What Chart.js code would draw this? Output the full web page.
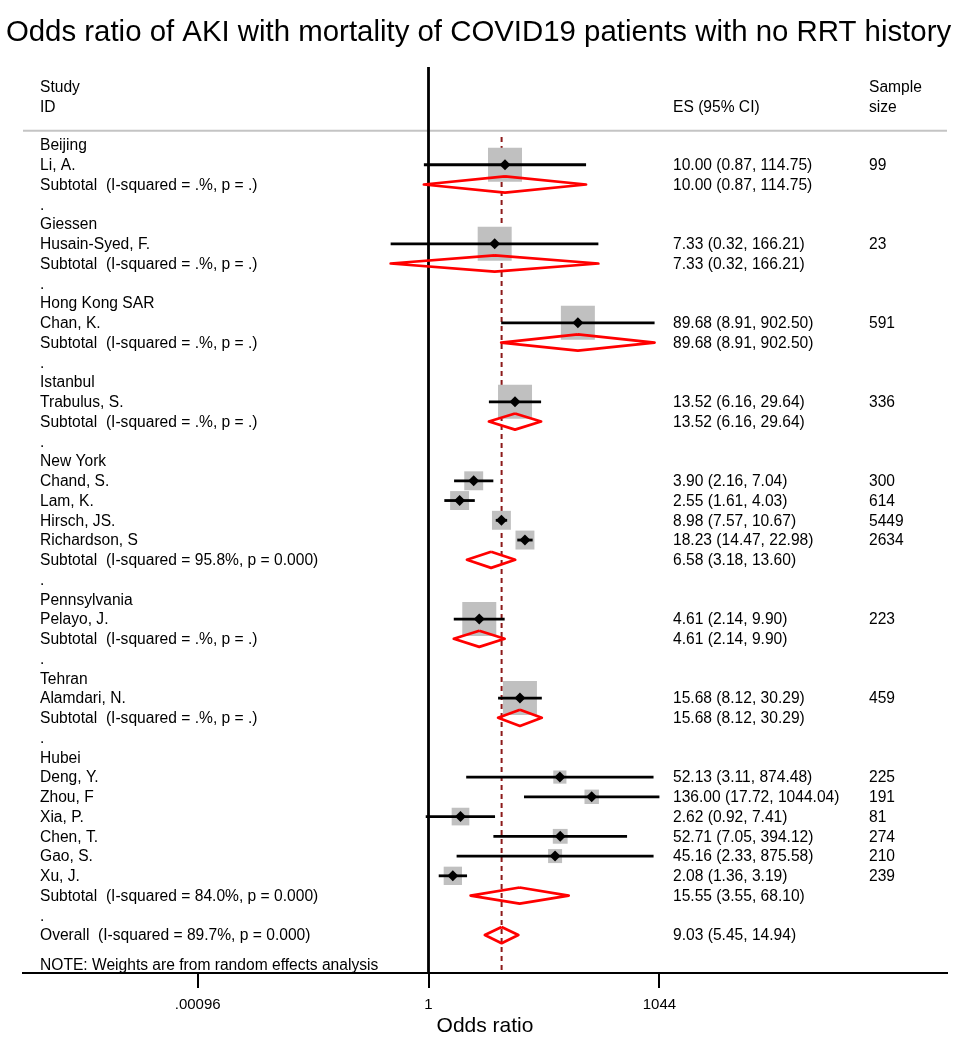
<!DOCTYPE html>
<html>
<head>
<meta charset="utf-8">
<title>Forest plot</title>
<script src="https://cdn.jsdelivr.net/npm/chart.js@4.4.0/dist/chart.umd.min.js"></script>
<style>
  html, body { margin: 0; padding: 0; background: #fff; overflow: hidden; }
  #wrap { width: 957px; height: 1055px; position: relative; }
  #forest { display: block; }
</style>
</head>
<body>
<div id="wrap"><canvas id="forest" width="957" height="1055"></canvas></div>
<script>
// data
const chartTitle = "Odds ratio of AKI with mortality of COVID19 patients with no RRT history";
const groupNames = ["Beijing", "Giessen", "Hong Kong SAR", "Istanbul", "New York", "Pennsylvania", "Tehran", "Hubei"];

const studyNames = ["Li, A.", "Husain-Syed, F.", "Chan, K.", "Trabulus, S.", "Chand, S.", "Lam, K.", "Hirsch, JS.",
  "Richardson, S", "Pelayo, J.", "Alamdari, N.", "Deng, Y.", "Zhou, F", "Xia, P.", "Chen, T.", "Gao, S.", "Xu, J."];
const studyGroup = [0, 1, 2, 3, 4, 4, 4, 4, 5, 6, 7, 7, 7, 7, 7, 7];
const studyOR = [10.00, 7.33, 89.68, 13.52, 3.90, 2.55, 8.98, 18.23, 4.61, 15.68, 52.13, 136.00, 2.62, 52.71, 45.16, 2.08];
const studyLow = [0.87, 0.32, 8.91, 6.16, 2.16, 1.61, 7.57, 14.47, 2.14, 8.12, 3.11, 17.72, 0.92, 7.05, 2.33, 1.36];
const studyHigh = [114.75, 166.21, 902.50, 29.64, 7.04, 4.03, 10.67, 22.98, 9.90, 30.29, 874.48, 1044.04, 7.41, 394.12, 875.58, 3.19];
const sampleSize = [99, 23, 591, 336, 300, 614, 5449, 2634, 223, 459, 225, 191, 81, 274, 210, 239];
// % weight
const studyWeight = [100, 100, 100, 100, 31, 31, 31, 31, 100, 100, 15, 18, 27, 19, 17, 29];

const subOR = [10.00, 7.33, 89.68, 13.52, 6.58, 4.61, 15.68, 15.55];
const subLow = [0.87, 0.32, 8.91, 6.16, 3.18, 2.14, 8.12, 3.55];
const subHigh = [114.75, 166.21, 902.50, 29.64, 13.60, 9.90, 30.29, 68.10];
const subI2 = [".%", ".%", ".%", ".%", "95.8%", ".%", ".%", "84.0%"];
const subP = [".", ".", ".", ".", "0.000", ".", ".", "0.000"];

const overallOR = 9.03;
const overallLow = 5.45;
const overallHigh = 14.94;
const overallI2 = "89.7%";
const overallP = "0.000";

const tickValues = [0.00096, 1, 1044];
const tickLabels = [".00096", "1", "1044"];

// layout bits
const FONT = '"Liberation Sans", Arial, Helvetica, sans-serif';
const textSize = 15.6;
const titleSize = 29.4;
const colStudy = 40, colES = 673, colN = 869;
const xAxisMin = 5.0e-6, xAxisMax = 6.0e6;
const yTop = -3.95, yBottom = 41.92;
const boxFull = 34;        // side of box at 100% weight
const diaHalf = 0.41;      // half height of pooled diamonds, in rows

Chart.defaults.font.family = FONT;
Chart.defaults.color = "#000";

function fmt(v) { return v.toFixed(2); }
function ci(es, lo, hi) { return fmt(es) + " (" + fmt(lo) + ", " + fmt(hi) + ")"; }

// build rows of the table
const rows = [];
const studyRow = [];
const subRow = [];
let r = 0;
groupNames.forEach((g, gi) => {
  rows.push({ row: r++, label: g });
  studyNames.forEach((s, si) => {
    if (studyGroup[si] !== gi) return;
    studyRow[si] = r;
    rows.push({ row: r++, label: s, es: ci(studyOR[si], studyLow[si], studyHigh[si]), n: String(sampleSize[si]) });
  });
  subRow[gi] = r;
  rows.push({ row: r++, label: "Subtotal  (I-squared = " + subI2[gi] + ", p = " + subP[gi] + ")",
    es: ci(subOR[gi], subLow[gi], subHigh[gi]) });
  rows.push({ row: r++, label: "." });
});
const overallRow = r;
rows.push({ row: r, label: "Overall  (I-squared = " + overallI2 + ", p = " + overallP + ")",
  es: ci(overallOR, overallLow, overallHigh) });
rows.push({ row: r + 1.52, label: "NOTE: Weights are from random effects analysis" });
rows.push({ row: -2.94, label: "Study", n: "Sample" });
rows.push({ row: -1.92, label: "ID", es: "ES (95% CI)", n: "size" });

// datasets
const datasets = [];
function lineSet(points, color, width, order, dash, join) {
  return {
    data: points, showLine: true, borderColor: color, borderWidth: width,
    pointRadius: 0, fill: false, order: order, borderDash: dash || [],
    borderCapStyle: "butt", borderJoinStyle: join || "miter", tension: 0
  };
}
datasets.push(lineSet([{ x: xAxisMin, y: -0.72 }, { x: xAxisMax, y: -0.72 }], "#c4c4c4", 2, 90));
datasets.push(lineSet([{ x: 1, y: yTop }, { x: 1, y: yBottom }], "#000", 2.8, 80));
datasets.push(lineSet([{ x: overallOR, y: -0.4 }, { x: overallOR, y: yBottom }], "#8c1a1a", 2, 70, [5, 4]));

// boxes
datasets.push({
  data: studyOR.map((v, i) => ({ x: v, y: studyRow[i] })),
  pointStyle: "rect",
  pointRadius: studyWeight.map(w => boxFull * Math.sqrt(w / 100) / (2 * Math.SQRT1_2)),
  backgroundColor: "#c0c0c0", borderWidth: 0, showLine: false, order: 60
});
// confidence intervals
studyOR.forEach((v, i) => {
  datasets.push(lineSet([{ x: studyLow[i], y: studyRow[i] }, { x: studyHigh[i], y: studyRow[i] }], "#000", 2.8, 50));
});
// pooled diamonds
function diamond(es, lo, hi, row) {
  return [{ x: es, y: row - diaHalf }, { x: hi, y: row }, { x: es, y: row + diaHalf },
    { x: lo, y: row }, { x: es, y: row - diaHalf }];
}
subOR.forEach((v, gi) => {
  datasets.push(lineSet(diamond(v, subLow[gi], subHigh[gi], subRow[gi]), "#ff0000", 2.7, 40, null, "round"));
});
datasets.push(lineSet(diamond(overallOR, overallLow, overallHigh, overallRow), "#ff0000", 2.7, 40, null, "round"));
// point estimates
datasets.push({
  data: studyOR.map((v, i) => ({ x: v, y: studyRow[i] })),
  pointStyle: "rectRot", pointRadius: 5.5,
  backgroundColor: "#000", borderWidth: 0, showLine: false, order: 30
});

const tableText = {
  id: "tableText",
  afterDatasetsDraw(chart) {
    const ctx = chart.ctx;
    const ys = chart.scales.y;
    ctx.save();
    ctx.fillStyle = "#000";
    ctx.textBaseline = "middle";
    // title, centred on the whole canvas
    ctx.textAlign = "center";
    ctx.font = titleSize + "px " + FONT;
    ctx.fillText(chartTitle, chart.width / 2, 33);
    // table columns
    ctx.textAlign = "left";
    ctx.font = textSize + "px " + FONT;
    rows.forEach(row => {
      const py = ys.getPixelForValue(row.row) + 1;
      if (row.label) ctx.fillText(row.label, colStudy, py);
      if (row.es) ctx.fillText(row.es, colES, py);
      if (row.n) ctx.fillText(row.n, colN, py);
    });
    ctx.restore();
  }
};

new Chart(document.getElementById("forest"), {
  type: "scatter",
  data: { datasets: datasets },
  options: {
    responsive: false,
    maintainAspectRatio: false,
    animation: false,
    devicePixelRatio: 1,
    layout: { autoPadding: false, padding: { left: 23, right: 10, top: 67, bottom: 0 } },
    plugins: {
      legend: { display: false },
      tooltip: { enabled: false },
      title: { display: false }
    },
    scales: {
      x: {
        type: "logarithmic",
        position: "bottom",
        min: xAxisMin,
        max: xAxisMax,
        afterBuildTicks: s => { s.ticks = tickValues.map(v => ({ value: v })); },
        afterFit: s => { s.height = 82; },
        ticks: {
          autoSkip: false, maxRotation: 0, padding: 8,
          font: { size: 15 }, color: "#000",
          callback: (v, i) => tickLabels[i]
        },
        grid: { display: true, drawOnChartArea: false, drawTicks: true, tickLength: 15, color: "#000", lineWidth: 2 },
        border: { display: true, color: "#000", width: 2 },
        title: { display: true, text: "Odds ratio", font: { size: 21 }, color: "#000", padding: { top: 0, bottom: 16 } }
      },
      y: {
        type: "linear",
        display: false,
        reverse: true,
        min: yTop,
        max: yBottom
      }
    }
  },
  plugins: [tableText]
});
</script>
</body>
</html>
